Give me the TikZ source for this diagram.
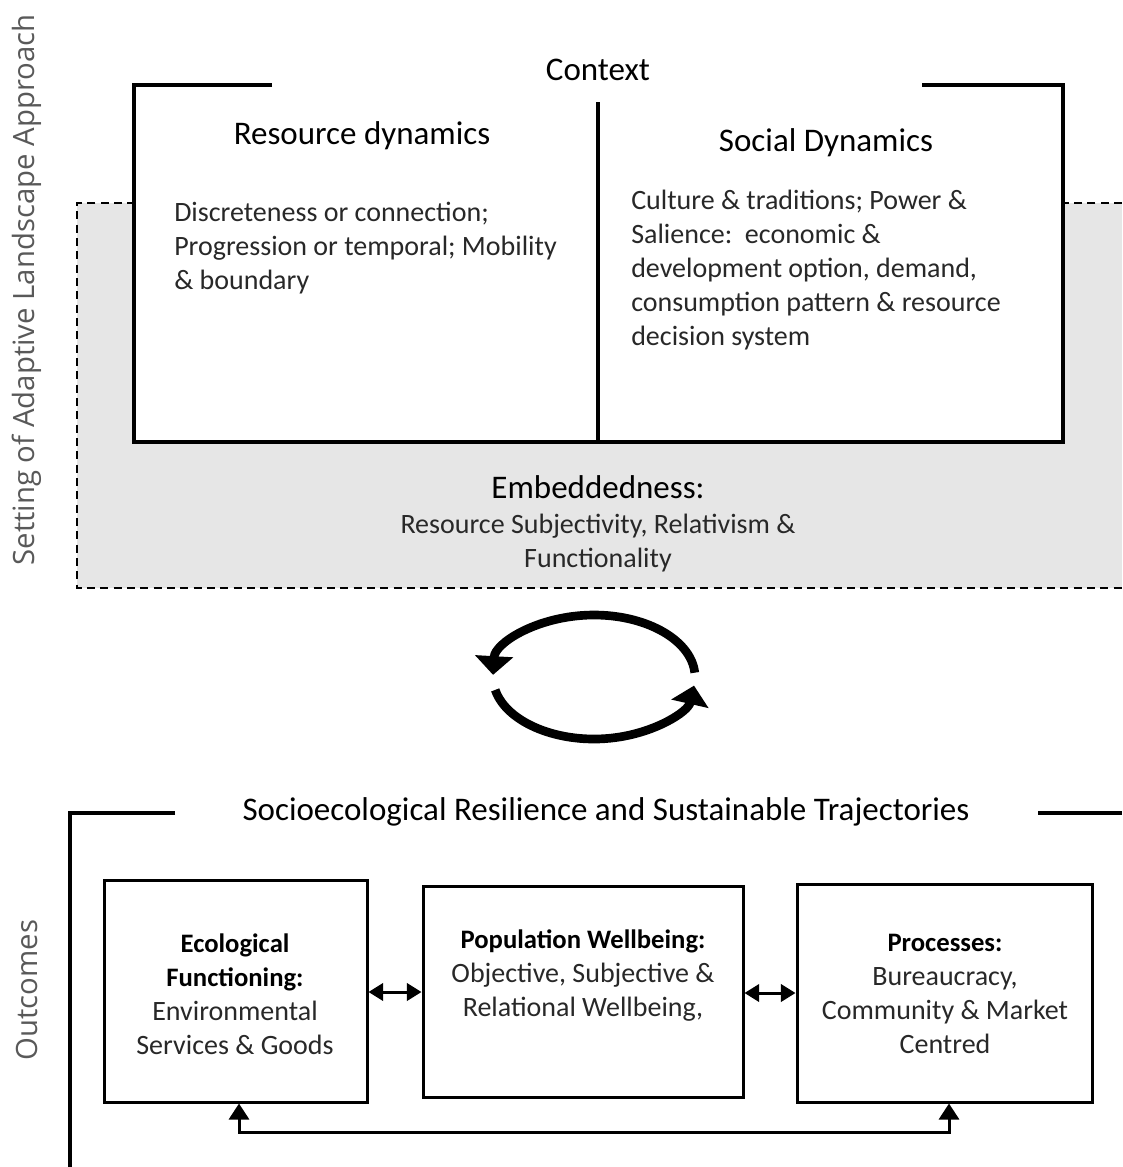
\documentclass[tikz,border=0pt]{standalone}
\usepackage{fontspec}
\setmainfont{Carlito}
\newfontfamily\sidefont{Open Sans}
\usetikzlibrary{arrows.meta,fit}
\definecolor{zonegray}{RGB}{230,230,230}
\definecolor{bodytext}{RGB}{40,40,40}
\definecolor{sidetext}{RGB}{89,89,89}
\begin{document}
\begin{tikzpicture}[x=0.75pt,y=-0.75pt,
  heading/.style={font=\fontsize{24.75}{30}\selectfont, text=black, inner sep=0},
  body/.style={font=\fontsize{21}{25.5}\selectfont, text=bodytext, inner sep=0},
  side/.style={font=\sidefont\fontsize{22}{26}\selectfont, text=sidetext, rotate=90, inner sep=0},
  frame/.style={line width=2.6pt, line join=miter},
  dashedge/.style={line width=1.5pt, dash pattern=on 6pt off 4pt, black},
  outbox/.style={draw, line width=2.25pt, inner sep=0pt, fill=white},
  link/.style={line width=2.25pt, line join=miter},
  cyclearrow/.style={line width=6.5pt, -{Triangle[width=28pt,length=14pt]}}]

\useasboundingbox (0,0) rectangle (1122,1167);

% shaded embeddedness zone
\fill[zonegray] (77,203) rectangle (1122,588);
\draw[dashedge] (1122,203) -- (77,203) -- (77,588) -- (1122,588);

% context box
\fill[white] (134,85) rectangle (1063,442);
\draw[frame] (272,85) -| (134,442) -| (1063,85) -- (922,85);
\draw[frame] (598,102) -- (598,442);

\node[heading] (context) at (598,70) {Context};
\node[heading] (resh) at (362,136) {Resource dynamics};
\node[heading] (soch) at (826,143) {Social Dynamics};
\node[body, anchor=west, align=left] (resb) at (174,248)
  {Discreteness or connection;\\Progression or temporal; Mobility\\\& boundary};
\node[body, anchor=west, align=left] (socb) at (631,270)
  {Culture \& traditions; Power \&\\Salience:\ \ economic \&\\development option, demand,\\consumption pattern \& resource\\decision system};

\node[heading] (embh) at (598,487) {Embeddedness:};
\node[body, align=center] (embb) at (598,543) {Resource Subjectivity, Relativism \&\\Functionality};

% side labels
\node[side] (sidetop) at (27,290) {Setting of Adaptive Landscape Approach};
\node[side] (sidebot) at (27,990) {Outcomes};

% cycle arrows
\coordinate (cyc) at (594,677);
\draw[cyclearrow] ([shift={(4:75.75pt and 46.5pt)}]cyc)
  arc[start angle=4, end angle=178, x radius=75.75pt, y radius=46.5pt];
\draw[cyclearrow] ([shift={(192:75.75pt and 46.5pt)}]cyc)
  arc[start angle=192, end angle=352, x radius=75.75pt, y radius=46.5pt];

% outcomes
\node[heading] (title) at (606,812) {Socioecological Resilience and Sustainable Trajectories};
\draw[frame] (175,813) -- (70,813) -- (70,1167);
\draw[frame] (1038,813) -- (1122,813);

\node[outbox, fit={(104,880)(367,1102)}] (b1) {};
\node[outbox, fit={(423,886)(743,1097)}] (b2) {};
\node[outbox, fit={(797,884)(1092,1102)}] (b3) {};

\node[body, align=center] (t1) at (235,994)
  {{\color{black}\bfseries\fontsize{20}{25.5}\selectfont Ecological}\\{\color{black}\bfseries\fontsize{20}{25.5}\selectfont Functioning:}\\Environmental\\Services \& Goods};
\node[body, align=center] (t2) at (583,976)
  {{\color{black}\bfseries\fontsize{20}{25.5}\selectfont Population Wellbeing:}\\Objective, Subjective \&\\Relational Wellbeing,};
\node[body, align=center] (t3) at (945,994)
  {{\color{black}\bfseries\fontsize{20}{25.5}\selectfont Processes:}\\Bureaucracy,\\Community \& Market\\Centred};

\coordinate (r1) at (0,992);
\coordinate (r2) at (0,993);
\draw[link, {Triangle[width=13pt,length=11pt]}-{Triangle[width=13pt,length=11pt]}] (b1.east |- r1) -- (b2.west |- r1);
\draw[link, {Triangle[width=13pt,length=11pt]}-{Triangle[width=13pt,length=11pt]}] (b2.east |- r2) -- (b3.west |- r2);

\coordinate (a1) at (239,1132);
\coordinate (a3) at (949,1132);
\draw[link, {Triangle[width=15pt,length=12pt]}-{Triangle[width=15pt,length=12pt]}] (a1 |- b1.south) -- (a1) -- (a3) -- (a3 |- b3.south);
\end{tikzpicture}
\end{document}
